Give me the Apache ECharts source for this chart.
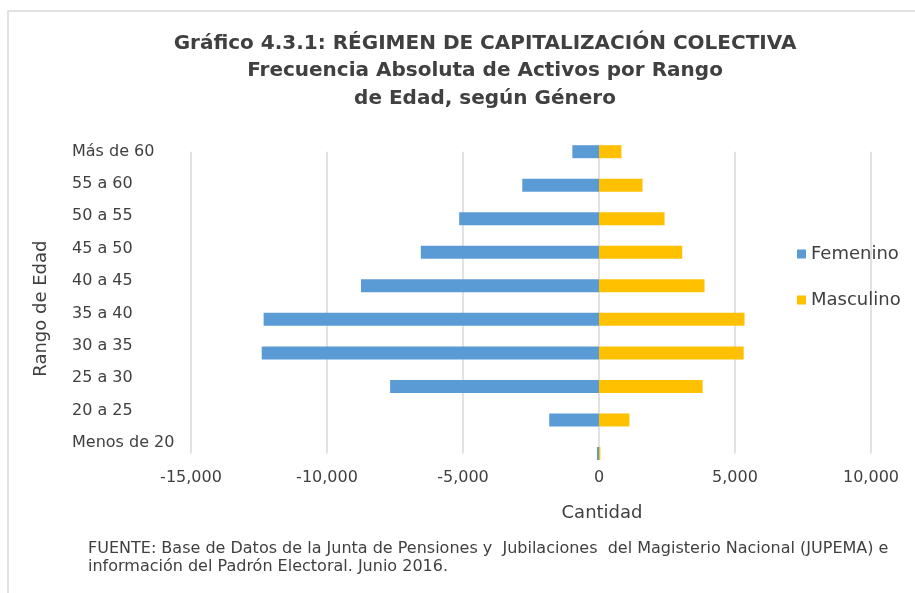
<!DOCTYPE html>
<html>
<head>
<meta charset="utf-8">
<title>Régimen de Capitalización Colectiva</title>
<script src="https://cdn.jsdelivr.net/npm/echarts@6/dist/echarts.min.js"></script>
<style>
  html, body { margin: 0; padding: 0; background: #fff; overflow: hidden; }
  #chart { width: 915px; height: 593px; }
</style>
</head>
<body>
<div id="chart"></div>
<script>
// categorías de arriba hacia abajo
var rangos = ['Más de 60', '55 a 60', '50 a 55', '45 a 50', '40 a 45',
              '35 a 40', '30 a 35', '25 a 30', '20 a 25', 'Menos de 20'];
// femenino se dibuja hacia la izquierda (negativo)
var femenino = [-980, -2820, -5140, -6550, -8750, -12330, -12400, -7680, -1830, -75];
var masculino = [825, 1600, 2410, 3060, 3880, 5350, 5320, 3810, 1120, 50];
var ticksX = { min: -15000, max: 10000, interval: 5000 };

var fuente = '"DejaVu Sans", sans-serif';
var gris = '#404040';

var chart = echarts.init(document.getElementById('chart'));

var option = {
    animation: false,
    textStyle: { fontFamily: fuente, color: gris },
    graphic: [
        // borde del área del gráfico (solo se ve arriba y a la izquierda)
        {
            type: 'polyline',
            shape: { points: [[8, 593], [8, 11], [915, 11]] },
            style: { fill: 'none', stroke: '#d9d9d9', lineWidth: 1.5 }
        },
        {
            type: 'text',
            x: 485, y: 71,
            style: {
                text: 'Gráfico 4.3.1: RÉGIMEN DE CAPITALIZACIÓN COLECTIVA\nFrecuencia Absoluta de Activos por Rango\nde Edad, según Género',
                font: 'bold 20px ' + fuente,
                fill: gris,
                align: 'center',
                verticalAlign: 'middle',
                lineHeight: 27.5
            }
        },
        {
            type: 'text',
            x: 88, y: 540,
            style: {
                text: 'FUENTE: Base de Datos de la Junta de Pensiones y  Jubilaciones  del Magisterio Nacional (JUPEMA) e\ninformación del Padrón Electoral. Junio 2016.',
                font: '16px ' + fuente,
                fill: gris,
                lineHeight: 18
            }
        }
    ],
    legend: {
        orient: 'vertical',
        left: 792,
        top: 240,
        itemWidth: 9,
        itemHeight: 9,
        itemGap: 28,
        icon: 'rect',
        textStyle: { fontSize: 18, color: gris, fontFamily: fuente },
        data: ['Femenino', 'Masculino']
    },
    grid: [
        { left: 191, width: 680, top: 151.7, height: 301.8 },
        { left: 191, width: 680, top: 151.5, height: 291.5 }
    ],
    xAxis: [
        {
            type: 'value',
            gridIndex: 0,
            min: ticksX.min,
            max: ticksX.max,
            interval: ticksX.interval,
            name: 'Cantidad',
            nameLocation: 'middle',
            nameGap: 51,
            nameTextStyle: { fontSize: 18, color: gris, padding: [0, 0, 0, 142] },
            axisLine: { show: false },
            axisTick: { show: false },
            axisLabel: {
                margin: 16,
                fontSize: 16,
                color: gris,
                formatter: function (v) { return v.toLocaleString('en-US'); }
            },
            splitLine: { lineStyle: { color: '#d9d9d9', width: 1.5 } }
        },
        { type: 'value', gridIndex: 1, show: false }
    ],
    yAxis: [
        {
            type: 'category',
            gridIndex: 0,
            data: rangos,
            inverse: true,
            boundaryGap: false,
            name: 'Rango de Edad',
            nameLocation: 'middle',
            nameGap: 141,
            nameRotate: 90,
            nameTextStyle: { fontSize: 18, color: gris, padding: [0, 12, 0, 0] },
            axisLine: { show: false },
            axisTick: { show: false },
            axisLabel: { show: false },
            splitLine: { show: false }
        },
        {
            type: 'category',
            gridIndex: 1,
            data: rangos,
            inverse: true,
            boundaryGap: false,
            axisLine: { show: false },
            axisTick: { show: false },
            axisLabel: { align: 'left', margin: 119, fontSize: 16, color: gris },
            splitLine: { show: false }
        }
    ],
    series: [
        {
            name: 'Femenino',
            type: 'bar',
            stack: 'total',
            barWidth: 13,
            itemStyle: { color: '#5B9BD5' },
            data: femenino
        },
        {
            name: 'Masculino',
            type: 'bar',
            stack: 'total',
            barWidth: 13,
            itemStyle: { color: '#FFC000' },
            data: masculino
        }
    ]
};

chart.setOption(option);
</script>
</body>
</html>
